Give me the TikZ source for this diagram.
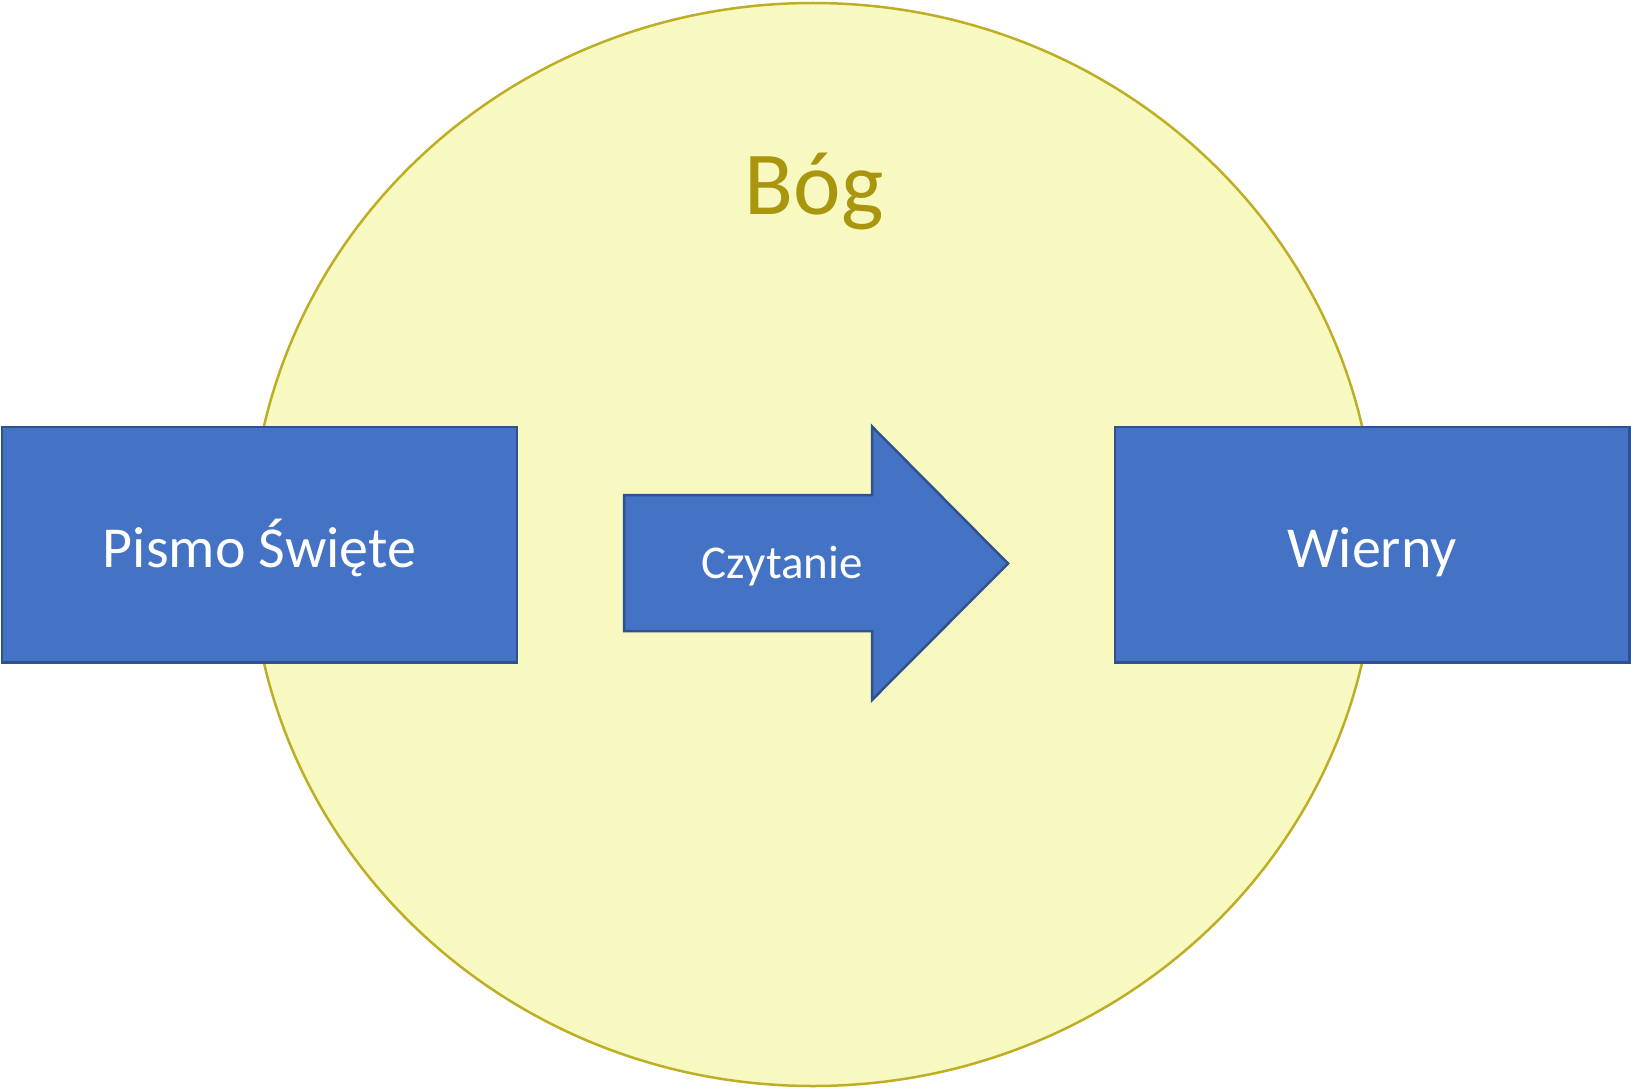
\documentclass[tikz,border=0pt]{standalone}
\usepackage{fontspec}
\setmainfont{Carlito}
\definecolor{ellfill}{HTML}{F8F9C0}
\definecolor{elldraw}{HTML}{BDAE25}
\definecolor{boxfill}{HTML}{4472C4}
\definecolor{boxdraw}{HTML}{2F528F}
\definecolor{godtext}{HTML}{AA950F}
\tikzset{
  boxshape/.style={fill=boxfill,draw=boxdraw,line width=2.5pt},
  boxtext/.style={text=white,font=\fontsize{58}{60}\selectfont,anchor=base},
}
\begin{document}
\begin{tikzpicture}[x=1pt,y=-1pt]
\useasboundingbox (0,0) rectangle (1631,1089);
\fill[white] (0,0) rectangle (1631,1089);
\draw[fill=ellfill,draw=elldraw,line width=2.5pt] (813,544.5) ellipse [x radius=562.5,y radius=541.5];
\node[anchor=base,text=godtext,font=\fontsize{90}{92}\selectfont,inner sep=0pt] (bog) at (814,214) {Bóg};
\draw[boxshape] (2,427) rectangle (517,662.5);
\node[boxtext,inner sep=0pt] (pismo) at (259.5,567) {Pismo Święte};
\draw[boxshape] (1115,427) rectangle (1629.5,662.5);
\node[boxtext,inner sep=0pt] (wierny) at (1372,567) {Wierny};
\draw[boxshape] (624,495) -- (872,495) -- (872,426.5) -- (1008,563.5) -- (872,700) -- (872,631) -- (624,631) -- cycle;
\node[anchor=base,text=white,font=\fontsize{47}{50}\selectfont,inner sep=0pt] (czyt) at (782,578) {Czytanie};
\end{tikzpicture}
\end{document}
